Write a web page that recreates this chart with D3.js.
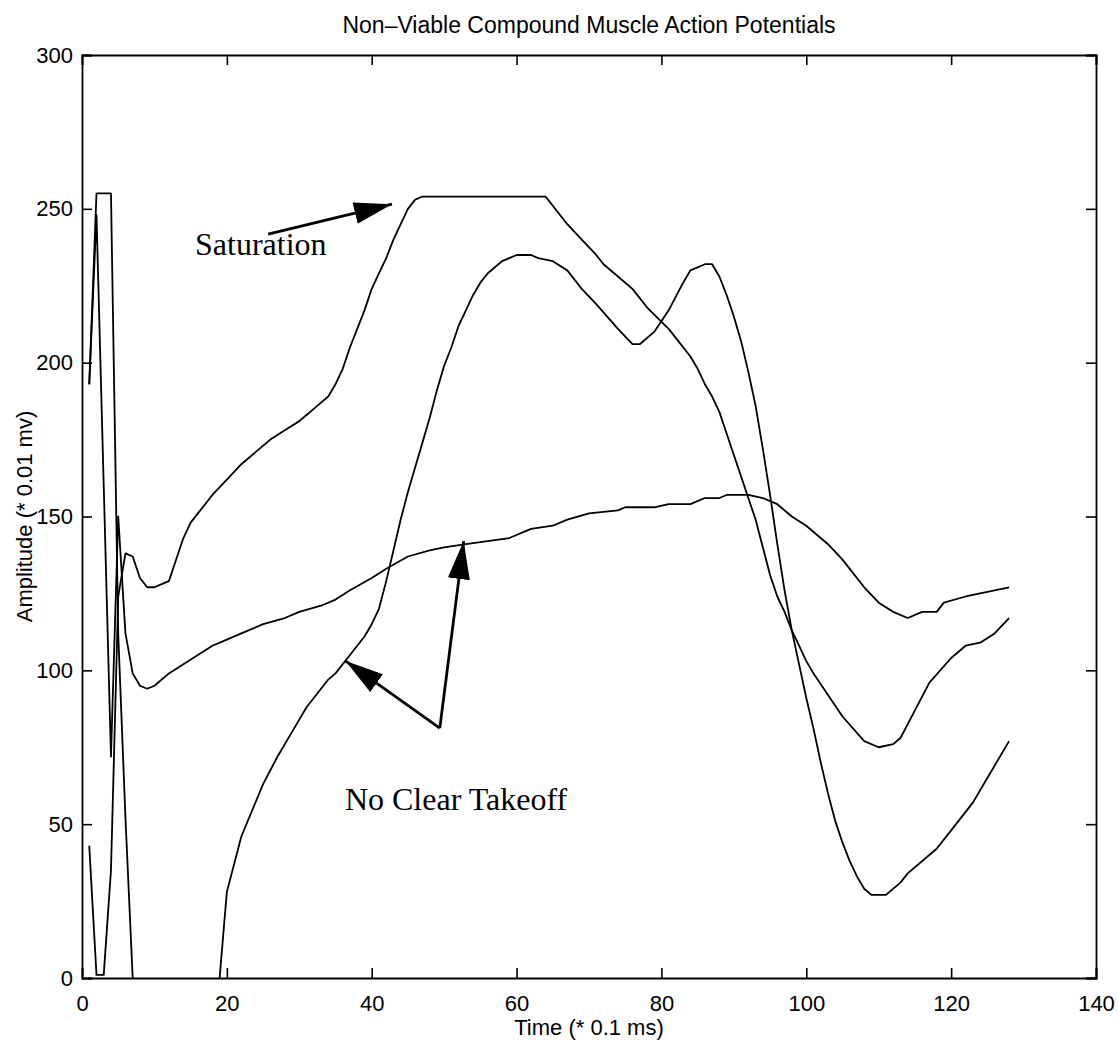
<!DOCTYPE html>
<html>
<head>
<meta charset="utf-8">
<script src="https://cdn.jsdelivr.net/npm/d3@7"></script>
<style>
  body { margin: 0; background: #ffffff; }
</style>
</head>
<body>
<div id="canvas"></div>
<script>
// Three traces: time in 0.1 ms, amplitude in 0.01 mv
var time_a = [1, 2, 3, 4, 5, 6, 7, 8, 9, 10, 11, 12, 13, 14, 15, 16, 17, 18, 20, 22, 24, 26, 28, 30, 31, 32, 33, 34, 35, 36, 37, 38, 39, 40,
  41, 42, 43, 44, 45, 46, 47, 64, 65, 66, 67, 69, 71, 72, 74, 76, 78, 81, 84, 85, 86, 87, 88, 89, 90, 91, 92, 93, 94, 95, 96, 97, 98, 99,
  100, 101, 103, 105, 108, 110, 112, 113, 115, 117, 120, 122, 124, 126, 128];
var amp_a = [43, 1, 1, 35, 124, 138, 137, 130, 127, 127, 128, 129, 136, 143, 148, 151, 154, 157, 162, 167, 171, 175, 178, 181, 183, 185, 187, 189, 193, 198, 205, 211, 217, 224,
  229, 234, 240, 245, 250, 253, 254, 254, 251, 248, 245, 240, 235, 232, 228, 224, 218, 211, 202, 198, 193, 189, 184, 177, 170, 163, 156, 149, 140, 131, 124, 119, 113, 108,
  103, 99, 92, 85, 77, 75, 76, 78, 87, 96, 104, 108, 109, 112, 117];

// null = trace is below the axis there
var time_b = [1, 2, 3, 4, 5, 6, 7, 13, 19, 20, 22, 25, 27, 29, 31, 34, 35, 36, 37, 38, 39, 40, 41, 42, 43, 44, 45, 46, 47, 48, 49, 50, 51, 52,
  53, 54, 55, 56, 57, 58, 59, 60, 62, 63, 65, 67, 69, 71, 74, 76, 77, 79, 81, 83, 84, 86, 87, 88, 89, 90, 91, 92, 93, 94, 95, 96, 97, 98,
  99, 100, 101, 102, 103, 104, 105, 106, 107, 108, 109, 111, 113, 114, 118, 120, 123, 125, 128];
var amp_b = [193, 255, 255, 255, 112, 52, 0, null, 0, 28, 46, 63, 72, 80, 88, 97, 99, 102, 105, 108, 111, 115, 120, 129, 139, 149, 158, 166, 174, 182, 191, 199, 205, 212,
  217, 222, 226, 229, 231, 233, 234, 235, 235, 234, 233, 230, 224, 219, 211, 206, 206, 210, 217, 226, 230, 232, 232, 228, 222, 215, 207, 197, 186, 172, 157, 141, 126, 113,
  102, 91, 81, 70, 60, 51, 44, 38, 33, 29, 27, 27, 31, 34, 42, 48, 57, 65, 77];

var time_c = [1, 2, 3, 4, 5, 6, 7, 8, 9, 10, 12, 14, 16, 18, 20, 22, 25, 28, 30, 33, 35, 37, 40, 42, 45, 48, 50, 53, 56, 59, 62, 65, 67, 70,
  74, 75, 79, 81, 84, 86, 88, 89, 92, 94, 95, 96, 98, 100, 103, 105, 108, 110, 112, 114, 116, 118, 119, 122, 124, 126, 128];
var amp_c = [193, 248, 160, 72, 150, 112, 99, 95, 94, 95, 99, 102, 105, 108, 110, 112, 115, 117, 119, 121, 123, 126, 130, 133, 137, 139, 140, 141, 142, 143, 146, 147, 149, 151,
  152, 153, 153, 154, 154, 156, 156, 157, 157, 156, 155, 154, 150, 147, 141, 136, 127, 122, 119, 117, 119, 119, 122, 124, 125, 126, 127];

var x_ticks = [0, 20, 40, 60, 80, 100, 120, 140];
var y_ticks = [0, 50, 100, 150, 200, 250, 300];

var title_text = "Non\u2013Viable Compound Muscle Action Potentials";
var x_label = "Time (* 0.1 ms)";
var y_label = "Amplitude (* 0.01 mv)";

// Hand-drawn notes, in data units
var note_text = ["Saturation", "No Clear Takeoff"];
var note_pos = [[15.6, 235], [36.3, 54.6]];
var arrow_from = [[25.7, 241.8], [49.4, 81.2], [49.4, 81.2]];
var arrow_to = [[42.8, 251.5], [36.4, 103], [52.7, 142]];


function redraw() {
  var canvas_w = 1118;
  var canvas_h = 1047;
  var margin = { left: 82, top: 55, right: 22, bottom: 69 };
  var plot_w = canvas_w - margin.left - margin.right;
  var plot_h = canvas_h - margin.top - margin.bottom;

  var svg = d3.select("#canvas").append("svg")
    .attr("width", canvas_w)
    .attr("height", canvas_h)
    .style("font-family", "'Liberation Sans', Arial, sans-serif");

  var x = d3.scaleLinear().domain([0, 140]).range([margin.left, margin.left + plot_w]);
  var y = d3.scaleLinear().domain([0, 300]).range([margin.top + plot_h, margin.top]);

  // Arrow head
  svg.append("defs").append("marker")
    .attr("id", "arrow-end")
    .attr("refX", 38)
    .attr("refY", 11)
    .attr("markerWidth", 40)
    .attr("markerHeight", 24)
    .attr("markerUnits", "userSpaceOnUse")
    .attr("orient", "auto")
    .append("path")
    .attr("d", "M 0 0 38 11 0 22 Z")
    .style("fill", "black");

  svg.select("defs").append("clipPath")
    .attr("id", "plot-clip")
    .append("rect")
    .attr("x", margin.left)
    .attr("y", margin.top)
    .attr("width", plot_w)
    .attr("height", plot_h);

  // Axes: ticks inward on all four sides
  var tick_len = 10;
  svg.append("g")
    .attr("transform", "translate(0," + y(0) + ")")
    .call(d3.axisBottom(x).tickValues(x_ticks).tickSize(-tick_len).tickPadding(17))
    .call(styleAxis);
  svg.append("g")
    .attr("transform", "translate(0," + y(300) + ")")
    .call(d3.axisTop(x).tickValues(x_ticks).tickSize(-tick_len).tickFormat(""))
    .call(styleAxis);
  svg.append("g")
    .attr("transform", "translate(" + x(0) + ",0)")
    .call(d3.axisLeft(y).tickValues(y_ticks).tickSize(-tick_len).tickPadding(9))
    .call(styleAxis);
  svg.append("g")
    .attr("transform", "translate(" + x(140) + ",0)")
    .call(d3.axisRight(y).tickValues(y_ticks).tickSize(-tick_len).tickFormat(""))
    .call(styleAxis);

  function styleAxis(g) {
    g.select(".domain").attr("stroke", "black").attr("stroke-width", 1.8);
    g.selectAll(".tick line").attr("stroke", "black").attr("stroke-width", 1.6);
    g.selectAll(".tick text")
      .attr("fill", "black")
      .style("font-size", "22px")
      .style("font-family", "'Liberation Sans', Arial, sans-serif");
  }

  // Traces
  var line = d3.line()
    .defined(function(d) { return d[1] !== null; })
    .x(function(d) { return x(d[0]); })
    .y(function(d) { return y(d[1]); });

  var traces = [[time_a, amp_a], [time_b, amp_b], [time_c, amp_c]];
  svg.append("g")
    .attr("clip-path", "url(#plot-clip)")
    .selectAll("path")
    .data(traces)
    .enter().append("path")
    .attr("d", function(t) { return line(d3.zip(t[0], t[1])); })
    .style("fill", "none")
    .style("stroke", "black")
    .style("stroke-width", 1.8)
    .style("stroke-linejoin", "round");

  // Labels
  svg.append("text")
    .attr("x", margin.left + plot_w / 2)
    .attr("y", 33)
    .attr("text-anchor", "middle")
    .style("font-size", "23px")
    .text(title_text);

  svg.append("text")
    .attr("x", margin.left + plot_w / 2)
    .attr("y", 1035)
    .attr("text-anchor", "middle")
    .style("font-size", "22px")
    .text(x_label);

  svg.append("text")
    .attr("transform", "translate(32," + (margin.top + plot_h / 2) + ") rotate(-90)")
    .attr("text-anchor", "middle")
    .style("font-size", "22px")
    .text(y_label);

  // Notes and arrows
  for (var i = 0; i < note_text.length; i++) {
    svg.append("text")
      .attr("x", x(note_pos[i][0]))
      .attr("y", y(note_pos[i][1]))
      .style("font-family", "'Liberation Serif', 'Times New Roman', serif")
      .style("font-size", "32px")
      .text(note_text[i]);
  }

  for (var i = 0; i < arrow_from.length; i++) {
    svg.append("line")
      .attr("x1", x(arrow_from[i][0]))
      .attr("y1", y(arrow_from[i][1]))
      .attr("x2", x(arrow_to[i][0]))
      .attr("y2", y(arrow_to[i][1]))
      .style("stroke", "black")
      .style("stroke-width", 2.8)
      .attr("marker-end", "url(#arrow-end)");
  }
}

redraw()
</script>
</body>
</html>
